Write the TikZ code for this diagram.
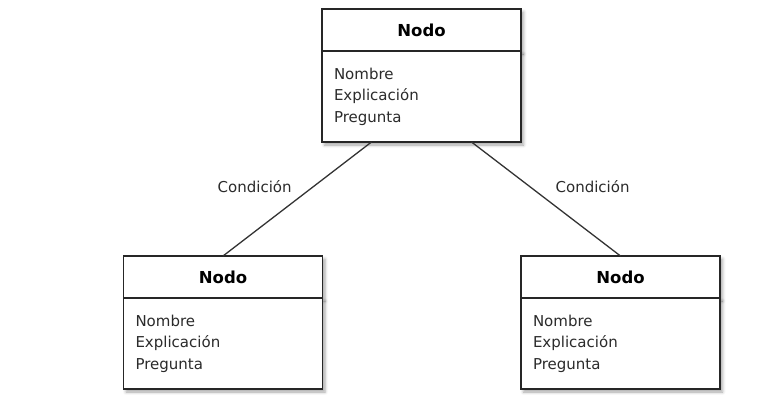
\documentclass[tikz,border=0pt]{standalone}
\usepackage{fontspec}
\setmainfont{DejaVu Sans}
\usetikzlibrary{shadows.blur}
\definecolor{texto}{HTML}{2B2B2B}
\newcommand{\atributos}{Nombre\\Explicación\\Pregunta}

\begin{document}
\begin{tikzpicture}[x=1pt,y=-1pt,
    sombra/.style={blur shadow={shadow xshift=2.5pt, shadow yshift=-3pt, shadow blur radius=3pt, shadow opacity=35}},
    cabecera/.style={draw=black!85, line width=1.3pt, fill=white, sombra, anchor=north, outer sep=0pt,
      minimum width=199pt, minimum height=42pt, font=\fontsize{16.5}{18}\selectfont\bfseries},
    cuerpo/.style={draw=black!85, line width=1.3pt, fill=white, sombra, anchor=north, outer sep=0pt,
      minimum width=199pt, minimum height=91pt, text width=175pt, align=left,
      text=texto, font=\fontsize{15}{21.5}\selectfont},
    arista/.style={draw=black!80, line width=1.3pt},
    etiqueta/.style={text=texto, font=\fontsize{15}{18}\selectfont}]
    \useasboundingbox (0,0) rectangle (757,394);

    \node[cabecera] (raiz) at (421.5,9) {Nodo};
    \node[cuerpo] (raiz-c) at (raiz.south) {\atributos};

    \node[cabecera] (izq) at (223,256) {Nodo};
    \node[cuerpo] (izq-c) at (izq.south) {\atributos};

    \node[cabecera] (der) at (620.5,256) {Nodo};
    \node[cuerpo] (der-c) at (der.south) {\atributos};

    \draw[arista] ([xshift=-50pt]raiz-c.south) -- node[etiqueta, pos=0.39, left=18pt] {Condición} (izq.north);
    \draw[arista] ([xshift=50pt]raiz-c.south) -- node[etiqueta, pos=0.39, right=22pt] {Condición} (der.north);
\end{tikzpicture}
\end{document}
